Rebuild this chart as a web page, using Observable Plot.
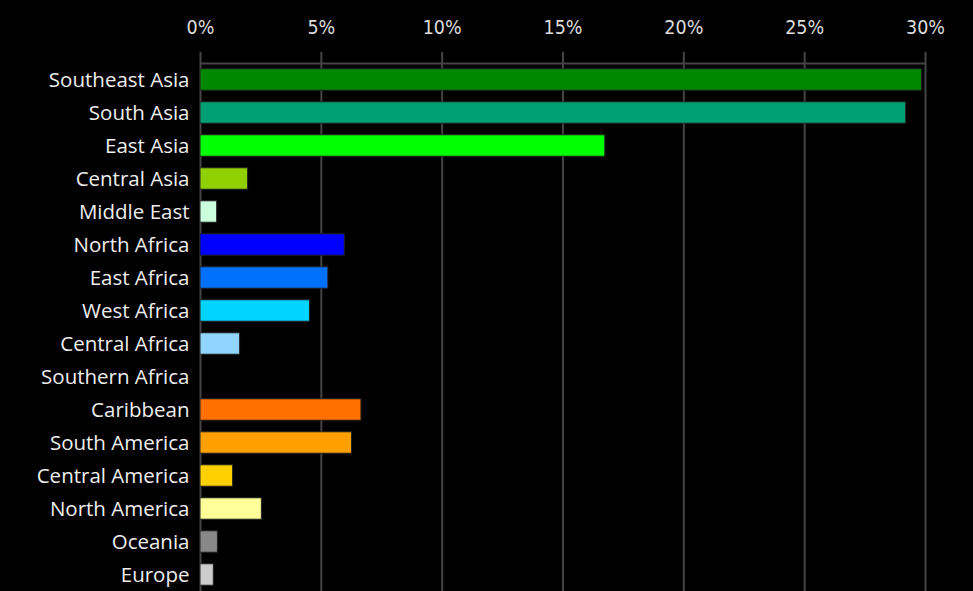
<!DOCTYPE html>
<html>
<head>
<meta charset="utf-8">
<script src="https://cdn.jsdelivr.net/npm/d3@7"></script>
<script src="https://cdn.jsdelivr.net/npm/@observablehq/plot@0.6"></script>
<style>
  html, body { margin: 0; padding: 0; background: #000; overflow: hidden; }
  #chart svg { display: block; }
</style>
</head>
<body>
<div id="chart"></div>
<script>
const regions = ["Southeast Asia","South Asia","East Asia","Central Asia","Middle East","North Africa","East Africa","West Africa","Central Africa","Southern Africa","Caribbean","South America","Central America","North America","Oceania","Europe"];
const shares = [29.85, 29.2, 16.75, 1.97, 0.69, 5.97, 5.29, 4.53, 1.64, 0, 6.66, 6.27, 1.35, 2.54, 0.72, 0.55];
const colors = ["#008800","#00a074","#00ff00","#90d000","#ccffdd","#0000ff","#0070ff","#00d4ff","#90d4ff","#000000","#ff7000","#ffa000","#ffd000","#ffff99","#888888","#cccccc"];
const xTicks = [0, 5, 10, 15, 20, 25, 30];

const data = regions.map((r, i) => ({region: r, share: shares[i], color: colors[i]}));

const chart = Plot.plot({
  width: 973,
  height: 591,
  marginTop: 63,
  marginBottom: 0,
  marginLeft: 200,
  marginRight: 48,
  style: {background: "#000", color: "#eee", fontFamily: "'Open Sans', Lato, sans-serif"},
  x: {domain: [0, 30], ticks: xTicks, axis: null, label: null},
  y: {domain: regions, paddingInner: 0.35, paddingOuter: 0.175, round: false, axis: null, label: null},
  marks: [
    Plot.ruleX(xTicks, {stroke: "#444", strokeWidth: 2, y1: () => regions[0], y2: () => regions[regions.length - 1], insetTop: -17, insetBottom: -30}),
    Plot.ruleY([0], {y: () => regions[0], x1: 0, x2: 30, dy: -16.5, stroke: "#444", strokeWidth: 2}),
    Plot.barX(data, {y: "region", x: "share", fill: "color", stroke: "#222", strokeWidth: 1}),
    Plot.axisX(xTicks, {anchor: "top", label: null, tickSize: 0, tickPadding: 30, tickFormat: d => d + "%", fontSize: 19.5, fill: "#ddd", fontFamily: "'DejaVu Sans Condensed', 'Liberation Sans Narrow', sans-serif", style: "letter-spacing:-1.2px"}),
    Plot.axisY({anchor: "left", label: null, tickSize: 0, tickPadding: 11, fontSize: 20.5, fill: "#eee"})
  ]
});
document.getElementById("chart").appendChild(chart);
</script>
</body>
</html>
